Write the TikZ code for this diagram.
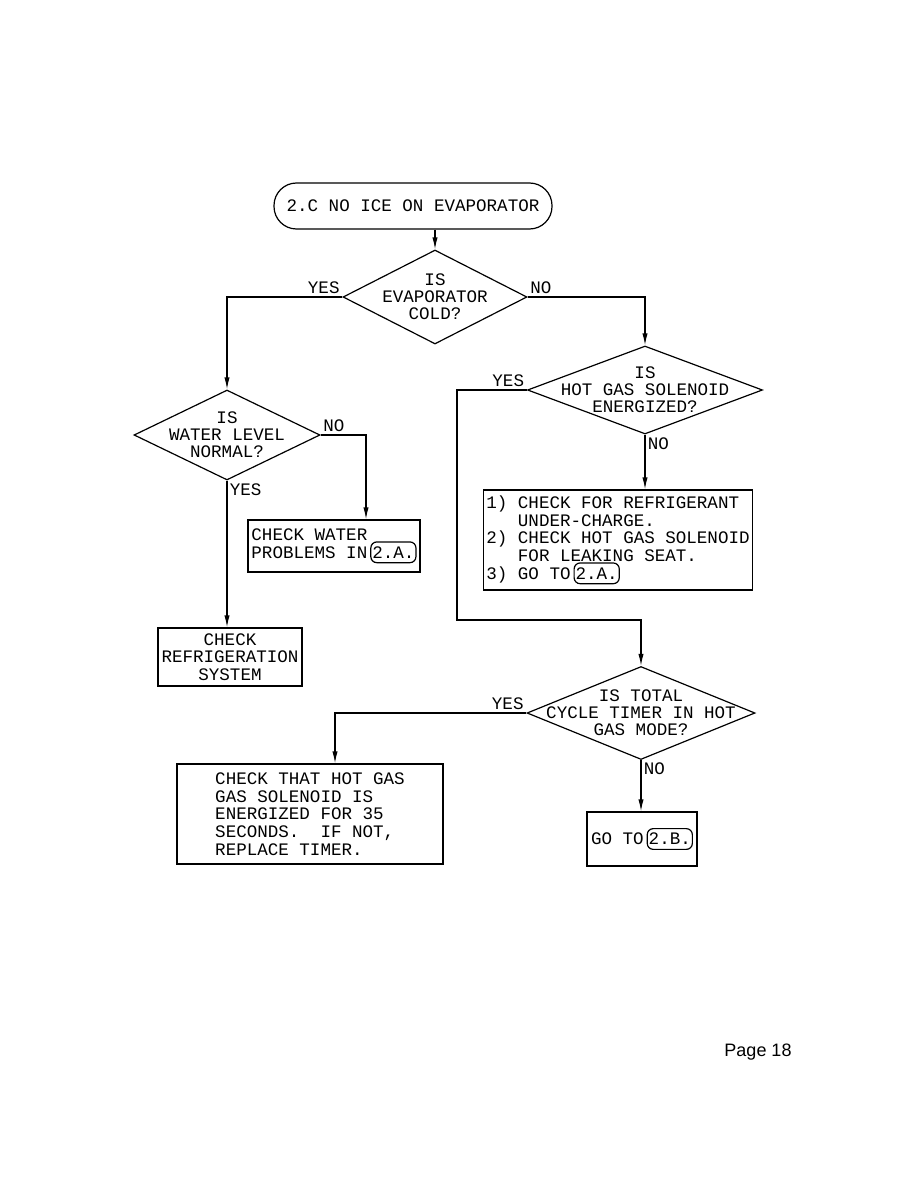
\documentclass[tikz,border=0pt]{standalone}
\usepackage{fontspec}
\setmainfont{Liberation Sans}
\setmonofont{Liberation Mono}
\usetikzlibrary{shapes.geometric,arrows.meta,calc}

\newcommand\px{0.6667pt}
\newcommand\goref[1]{\tikz[baseline=(g.base)]\node[draw,line width=0.8pt,rectangle,rounded corners=4pt,minimum width=0pt,minimum height=0pt,inner xsep=1pt,inner ysep=3pt](g){#1};}

\tikzset{
	txt/.style={font=\ttfamily\fontsize{11.7}{11.8}\selectfont},
	dtxt/.style={font=\ttfamily\fontsize{11.7}{11.2}\selectfont, align=center},
	flow/.style={draw, line width=0.8pt, -{Latex[length=8pt,width=3.5pt]}},
	box/.style={draw, line width=0.8pt, rectangle, inner sep=2pt, txt},
	terminal/.style={box, rounded corners=15pt},
	decision/.style={diamond, draw, line width=0.8pt, inner sep=0pt},
	answer/.style={txt, inner sep=1.5pt}
}

\begin{document}
\begin{tikzpicture}[x=\px, y=-\px]
	\path[use as bounding box] (0,0) rectangle (918,1188);

	% start
	\node[terminal, minimum width=278*\px, minimum height=46*\px] (start) at (413,206) {2.C NO ICE ON EVAPORATOR};

	% decisions
	\node[decision, minimum width=184*\px, minimum height=94*\px, label={[dtxt]center:IS\\EVAPORATOR\\COLD?}] (d1) at (435,297) {};
	\node[decision, minimum width=186*\px, minimum height=90*\px, label={[dtxt]center:IS\\WATER LEVEL\\NORMAL?}] (d2) at (227,435) {};
	\node[decision, minimum width=235*\px, minimum height=88*\px, label={[dtxt]center:IS\\HOT GAS SOLENOID\\ENERGIZED?}] (d3) at (645,390) {};
	\node[decision, minimum width=228*\px, minimum height=93*\px, label={[dtxt]center:IS TOTAL\\CYCLE TIMER IN HOT\\GAS MODE?}] (d4) at (641,713) {};

	% actions
	\node[box, minimum width=172*\px, minimum height=52*\px, align=left] (water) at (334,546) {CHECK WATER\\PROBLEMS IN\,\goref{2.A.}};
	\node[box, minimum width=144*\px, minimum height=58*\px, align=center, inner sep=1pt] (refr) at (230,657) {CHECK\\REFRIGERATION\\SYSTEM};
	\node[box, minimum width=269*\px, minimum height=100*\px, align=left] (chk) at (618,540) {1) CHECK FOR REFRIGERANT\\\hphantom{1) }UNDER-CHARGE.\\2) CHECK HOT GAS SOLENOID\\\hphantom{2) }FOR LEAKING SEAT.\\3) GO TO\,\goref{2.A.}};
	\node[box, minimum width=266*\px, minimum height=100*\px, align=left] (timer) at (310,814) {CHECK THAT HOT GAS\\GAS SOLENOID IS\\ENERGIZED FOR 35\\SECONDS.\ \ IF NOT,\\REPLACE TIMER.};
	\node[box, minimum width=110*\px, minimum height=54*\px, align=left] (goto) at (642,839) {GO TO\,\goref{2.B.}};

	% connectors
	\draw[flow] (d1.north |- start.south) -- (d1.north);
	\draw[flow] (d1.west) node[answer, anchor=south east] (y1) {YES} -| (d2.north);
	\draw[flow] (d1.east) node[answer, anchor=south west] (n1) {NO} -| (d3.north);
	\draw[flow] (d2.east) node[answer, anchor=south west] (n2) {NO} -| ($(water.north)+(32,0)$);
	\draw[flow] (d2.south) node[answer, anchor=north west] (y2) {YES} -- (d2.south |- refr.north);
	\draw[flow] (d3.south) node[answer, anchor=north west] (n3) {NO} -- (d3.south |- chk.north);
	\draw[flow] (d3.west) node[answer, anchor=south east] (y3) {YES} -- ++(-70,0) |- ($(d4.north)+(0,-46)$) -- (d4.north);
	\draw[flow] (d4.west) node[answer, anchor=south east] (y4) {YES} -| ($(timer.north)+(25,0)$);
	\draw[flow] (d4.south) node[answer, anchor=north west] (n4) {NO} -- (d4.south |- goto.north);

	% page number
	\node[font=\fontsize{12}{14}\selectfont] (page) at (758,1052) {Page 18};
\end{tikzpicture}
\end{document}
